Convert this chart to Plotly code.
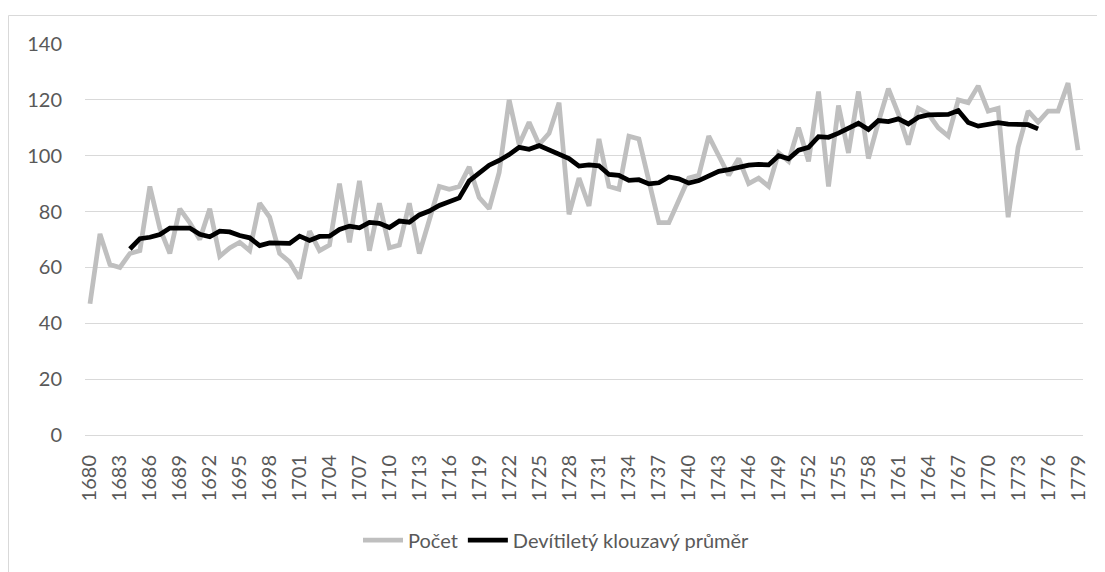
import plotly.graph_objects as go

years = list(range(1680, 1780))
pocet = [47, 72, 61, 60, 65, 66, 89, 74, 65, 81,
         76, 70, 81, 64, 67, 69, 66, 83, 78, 65,
         62, 56, 73, 66, 68, 90, 69, 91, 66, 83,
         67, 68, 83, 65, 77, 89, 88, 89, 96, 85,
         81, 94, 120, 104, 112, 104, 108, 119, 79, 92,
         82, 106, 89, 88, 107, 106, 91, 76, 76, 84,
         92, 93, 107, 100, 93, 99, 90, 92, 89, 101,
         98, 110, 98, 123, 89, 118, 101, 123, 99, 112,
         124, 115, 104, 117, 115, 110, 107, 120, 119, 125,
         116, 117, 78, 103, 116, 112, 116, 116, 126, 102]

ma_years = list(range(1684, 1776))
prumer = [66.6, 70.3, 70.8, 71.8, 74.1, 74.0, 74.1, 71.9, 71.0, 73.0,
          72.7, 71.4, 70.6, 67.8, 68.8, 68.7, 68.6, 71.2, 69.7, 71.1,
          71.2, 73.6, 74.8, 74.2, 76.1, 75.8, 74.3, 76.6, 76.2, 78.8,
          80.2, 82.2, 83.7, 84.9, 91.0, 94.0, 96.6, 98.3, 100.4, 103.0,
          102.3, 103.6, 102.2, 100.7, 99.0, 96.3, 96.7, 96.4, 93.3, 93.0,
          91.2, 91.4, 89.9, 90.3, 92.4, 91.7, 90.2, 91.1, 92.7, 94.4,
          95.0, 96.0, 96.6, 96.9, 96.7, 100.0, 98.9, 102.0, 103.0, 106.8,
          106.6, 108.1, 109.7, 111.6, 109.4, 112.6, 112.2, 113.2, 111.4, 113.8,
          114.6, 114.7, 114.8, 116.2, 111.9, 110.6, 111.2, 111.8, 111.3, 111.0,
          111.1, 109.6]

tick_years = list(range(1680, 1780, 3))
tick_labels = [str(y) for y in tick_years]
y_ticks = [0, 20, 40, 60, 80, 100, 120, 140]

font_family = "Lato"
text_color = "#595959"
grid_color = "#D9D9D9"
fs = 20

fig = go.Figure()
fig.add_trace(go.Scatter(x=years, y=pocet, mode="lines", name="Počet",
                         line=dict(color="#BFBFBF", width=4.75)))
fig.add_trace(go.Scatter(x=ma_years, y=prumer, mode="lines",
                         name="Devítiletý klouzavý průměr",
                         line=dict(color="#000000", width=4.75)))

# page body has an 8px margin, so figure coords = screen coords - 8
W, H = 1097, 564
L, T = 77, 36
R = W - 1075
B = H - 427
pw = W - L - R
ph = H - T - B

def px_to_paper_x(px):
    return (px - L) / pw

def px_to_paper_y(py):
    return (H - B - py) / ph

fig.update_layout(
    width=W, height=H,
    margin=dict(l=L, r=R, t=T, b=B),
    paper_bgcolor="white", plot_bgcolor="white",
    font=dict(family=font_family, color=text_color, size=fs),
    showlegend=True,
    legend=dict(orientation="h", xref="container", yref="container",
                x=0.5, xanchor="center", y=1 - 532 / H, yanchor="middle",
                font=dict(size=fs, color=text_color), itemwidth=40,
                traceorder="normal"),
    xaxis=dict(range=[1679.5, 1779.5], tickmode="array", tickvals=tick_years,
               ticktext=tick_labels, tickangle=-90, showgrid=False,
               showline=True, linecolor=grid_color, linewidth=1,
               ticks="", zeroline=False, ticklabelstandoff=11,
               tickfont=dict(size=fs, color=text_color)),
    yaxis=dict(range=[0, 140], tickmode="array", tickvals=y_ticks,
               showgrid=True, gridcolor=grid_color, gridwidth=1,
               zeroline=False, showline=False, ticks="",
               ticklabelstandoff=22,
               tickfont=dict(size=fs, color=text_color)),
    shapes=[
        dict(type="line", xref="paper", yref="paper",
             x0=px_to_paper_x(0.5), x1=px_to_paper_x(0.5),
             y0=px_to_paper_y(7.5), y1=px_to_paper_y(600),
             line=dict(color=grid_color, width=1)),
        dict(type="line", xref="paper", yref="paper",
             x0=px_to_paper_x(0.5), x1=px_to_paper_x(1120),
             y0=px_to_paper_y(7.5), y1=px_to_paper_y(7.5),
             line=dict(color=grid_color, width=1)),
    ],
)

fig.write_html("out.html")
